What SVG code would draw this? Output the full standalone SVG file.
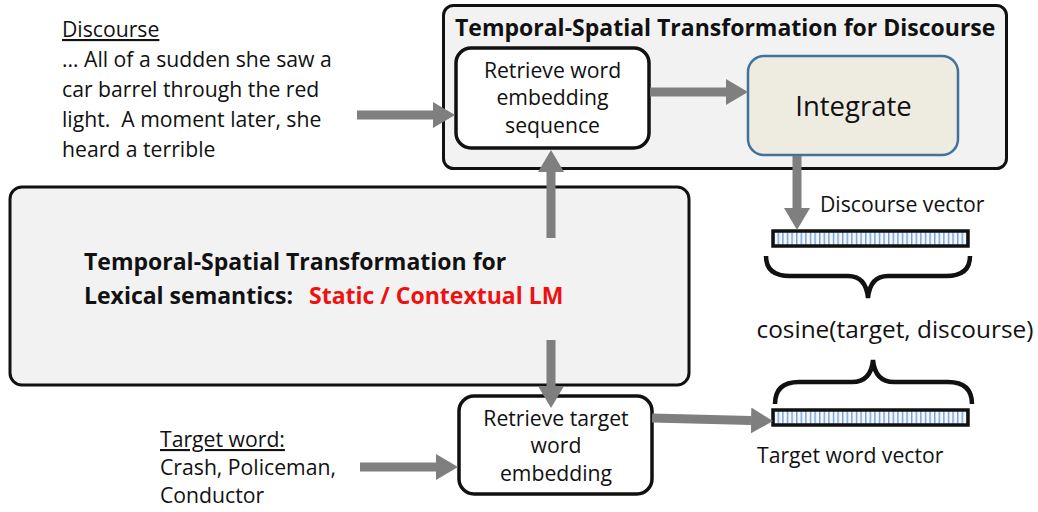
<svg xmlns="http://www.w3.org/2000/svg" width="1038" height="512" viewBox="0 0 1038 512">
  <defs>
    <style>
      text { font-family: "Open Sans", "Liberation Sans", sans-serif; fill: #111; font-variant-ligatures: none; }
      .t19 { font-size: 21.2px; }
      .bold { font-weight: bold; font-size: 23px; }
      .red { fill: #ee1111; }
      .panel { fill: #f2f2f2; stroke: #111; stroke-width: 3; }
      .step { fill: #ffffff; stroke: #111; stroke-width: 3.5; }
      .integrate { fill: #eeece1; stroke: #41719c; stroke-width: 2.5; }
      .conn { stroke: #7f7f7f; stroke-width: 9; fill: none; marker-end: url(#head); }
      .vec { fill: url(#stripes); stroke: #111; stroke-width: 3.5; }
      .brace { fill: none; stroke: #111; stroke-width: 4.5; stroke-linecap: butt; }
    </style>
    <marker id="head" markerUnits="userSpaceOnUse" viewBox="0 0 22 26" refX="0" refY="13" markerWidth="22" markerHeight="26" orient="auto">
      <path d="M0,0 L22,13 L0,26 z" fill="#7f7f7f"/>
    </marker>
    <pattern id="stripes" patternUnits="userSpaceOnUse" x="773" y="0" width="4.6" height="10">
      <rect width="4.6" height="10" fill="#f4f8fd"/>
      <rect x="0" width="1.4" height="10" fill="#6f9fd8"/>
    </pattern>
  </defs>

  <!-- outer panels -->
  <g id="discourse-panel">
    <rect class="panel" x="443.5" y="5.5" width="563" height="163" rx="10"/>
    <text class="bold" x="455" y="36">Temporal-Spatial Transformation for Discourse</text>
  </g>
  <g id="lexical-panel">
    <rect class="panel" x="10" y="187" width="679" height="198" rx="12"/>
    <text class="bold" x="84" y="270">Temporal-Spatial Transformation for</text>
    <text class="bold" x="84" y="304">Lexical semantics: <tspan class="red" x="309">Static / Contextual LM</tspan></text>
  </g>

  <!-- processing steps -->
  <g id="retrieve-sequence">
    <rect class="step" x="456" y="48" width="193" height="100" rx="15"/>
    <text class="t19" x="552.5" y="78" text-anchor="middle">Retrieve word</text>
    <text class="t19" x="552.5" y="105" text-anchor="middle">embedding</text>
    <text class="t19" x="552.5" y="133" text-anchor="middle">sequence</text>
  </g>
  <g id="integrate">
    <rect class="integrate" x="748" y="56" width="210" height="99" rx="16"/>
    <text x="853.5" y="116" text-anchor="middle" font-size="27.5">Integrate</text>
  </g>
  <g id="retrieve-target">
    <rect class="step" x="459" y="396" width="193" height="98" rx="15"/>
    <text class="t19" x="556" y="426" text-anchor="middle">Retrieve target</text>
    <text class="t19" x="556" y="453" text-anchor="middle">word</text>
    <text class="t19" x="556" y="481" text-anchor="middle">embedding</text>
  </g>

  <!-- inputs -->
  <g id="discourse-input">
    <text class="t19" x="62" y="37" text-decoration="underline">Discourse</text>
    <text class="t19" x="62" y="67">… All of a sudden she saw a</text>
    <text class="t19" x="62" y="97">car barrel through the red</text>
    <text class="t19" x="62" y="127" xml:space="preserve">light.  A moment later, she</text>
    <text class="t19" x="62" y="157">heard a terrible</text>
  </g>
  <g id="target-input">
    <text class="t19" x="160" y="447" text-decoration="underline">Target word:</text>
    <text class="t19" x="160" y="475">Crash, Policeman,</text>
    <text class="t19" x="160" y="503">Conductor</text>
  </g>

  <!-- vectors and comparison -->
  <g id="discourse-vector">
    <rect class="vec" x="773" y="231" width="195" height="15"/>
    <text class="t19" x="820" y="212">Discourse vector</text>
    <path class="brace" d="M766,256 Q766,276 790,276 L848,276 Q866,276 868,298 Q870,276 888,276 L946,276 Q970,276 970,256"/>
  </g>
  <g id="cosine">
    <text x="895" y="338" text-anchor="middle" font-size="24.4">cosine(target, discourse)</text>
  </g>
  <g id="target-vector">
    <path class="brace" d="M775,404 Q775,382 799,382 L852,382 Q871,382 873,360 Q875,382 894,382 L948,382 Q972,382 972,404"/>
    <rect class="vec" x="773" y="410" width="195" height="15"/>
    <text class="t19" x="757" y="463">Target word vector</text>
  </g>

  <!-- connectors -->
  <g id="connectors">
    <line class="conn" x1="357" y1="115" x2="433" y2="115"/>
    <line class="conn" x1="650" y1="92" x2="726" y2="92"/>
    <line class="conn" x1="551" y1="238" x2="551" y2="172"/>
    <line class="conn" x1="551" y1="340" x2="551" y2="386"/>
    <line class="conn" x1="360" y1="467" x2="436" y2="467"/>
    <line class="conn" x1="652" y1="418" x2="751" y2="420.5"/>
    <line class="conn" x1="797" y1="156" x2="797" y2="208"/>
  </g>
</svg>
